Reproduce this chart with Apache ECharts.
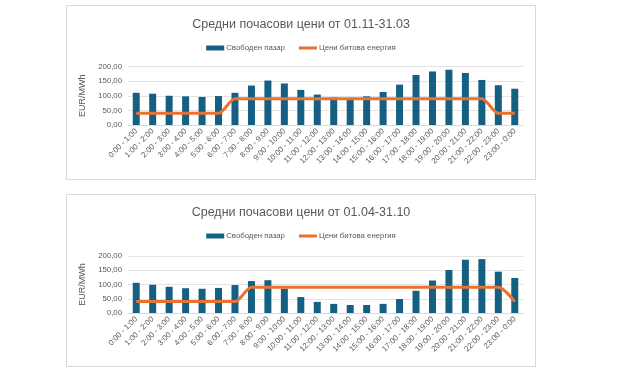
<!DOCTYPE html>
<html>
<head>
<meta charset="utf-8">
<script src="https://cdn.jsdelivr.net/npm/echarts@6/dist/echarts.min.js"></script>
<style>
html,body{margin:0;padding:0;background:#fff;width:640px;height:382px;overflow:hidden;}
.box{position:absolute;border:1px solid #d9d9d9;box-sizing:border-box;background:#fff;}
</style>
</head>
<body>
<div id="c1" class="box" style="left:66px;top:5px;width:470px;height:175px;"></div>
<div id="c2" class="box" style="left:66px;top:194px;width:470px;height:173px;"></div>
<script>
const hours = ["0:00 - 1:00","1:00 - 2:00","2:00 - 3:00","3:00 - 4:00","4:00 - 5:00","5:00 - 6:00","6:00 - 7:00","7:00 - 8:00","8:00 - 9:00","9:00 - 10:00","10:00 - 11:00","11:00 - 12:00","12:00 - 13:00","13:00 - 14:00","14:00 - 15:00","15:00 - 16:00","16:00 - 17:00","17:00 - 18:00","18:00 - 19:00","19:00 - 20:00","20:00 - 21:00","21:00 - 22:00","22:00 - 23:00","23:00 - 0:00"];
const winterMarket = [110,107,100,98,96,99,110,135,152,142,120,104,94,88,98,113,138,171,183,189,178,154,136,124];
const winterHousehold = [40,40,40,40,40,40,90,90,90,90,90,90,90,90,90,90,90,90,90,90,90,90,40,40];
const summerMarket = [106,99,92,87,85,88,98,112,115,85,56,39,32,28,28,32,49,78,114,151,187,189,145,123];
const summerHousehold = [40,40,40,40,40,40,40,90,90,90,90,90,90,90,90,90,90,90,90,90,90,90,90,40];
const titles = ["Средни почасови цени от 01.11-31.03","Средни почасови цени от 01.04-31.10"];
const seriesNames = ["Свободен пазар","Цени битова енергия"];
const yName = "EUR/MWh";

const grey = '#595959';
const font = 'Liberation Sans, Arial, sans-serif';

function makeOption(title, market, household, titleTop, legendTop, gridTop, gridBottom){
  return {
    animation:false,
    textStyle:{fontFamily:font},
    title:{text:title,left:'center',top:titleTop,textStyle:{fontSize:12.5,fontWeight:'normal',color:grey,fontFamily:font}},
    legend:{
      top:legendTop,left:'center',itemWidth:18,itemHeight:5,itemGap:14,
      textStyle:{fontSize:7.8,color:grey,padding:[0,0,0,-3]},
      data:[{name:seriesNames[0],icon:'rect'},{name:seriesNames[1],icon:'path://M0,0 L18,0 L18,3 L0,3 Z'}]
    },
    grid:{left:61,right:12,top:gridTop,bottom:gridBottom,containLabel:false},
    xAxis:{
      type:'category',data:hours,
      axisTick:{show:false},
      axisLine:{lineStyle:{color:'#d9d9d9'}},
      axisLabel:{rotate:45,fontSize:7.8,color:grey,interval:0,margin:5}
    },
    yAxis:{
      type:'value',min:0,max:200,interval:50,
      name:yName,nameLocation:'middle',nameGap:38,nameRotate:90,
      nameTextStyle:{fontSize:9,color:grey},
      axisLine:{show:false},axisTick:{show:false},
      axisLabel:{fontSize:7.8,color:grey,margin:6,formatter:v=>v.toFixed(2).replace('.',',')},
      splitLine:{lineStyle:{color:'#e3e3e3'}}
    },
    series:[
      {name:seriesNames[0],type:'bar',data:market,barWidth:7,itemStyle:{color:'#156082'}},
      {name:seriesNames[1],type:'line',data:household,symbol:'none',smooth:0.3,smoothMonotone:'x',
       lineStyle:{width:3,color:'#E97132'},itemStyle:{color:'#E97132'}}
    ]
  };
}

const ch1 = echarts.init(document.getElementById('c1'));
ch1.setOption(makeOption(titles[0], winterMarket, winterHousehold, 7, 33, 60.5, 54));
const ch2 = echarts.init(document.getElementById('c2'));
ch2.setOption(makeOption(titles[1], summerMarket, summerHousehold, 6, 32, 61, 53));
</script>
</body>
</html>
